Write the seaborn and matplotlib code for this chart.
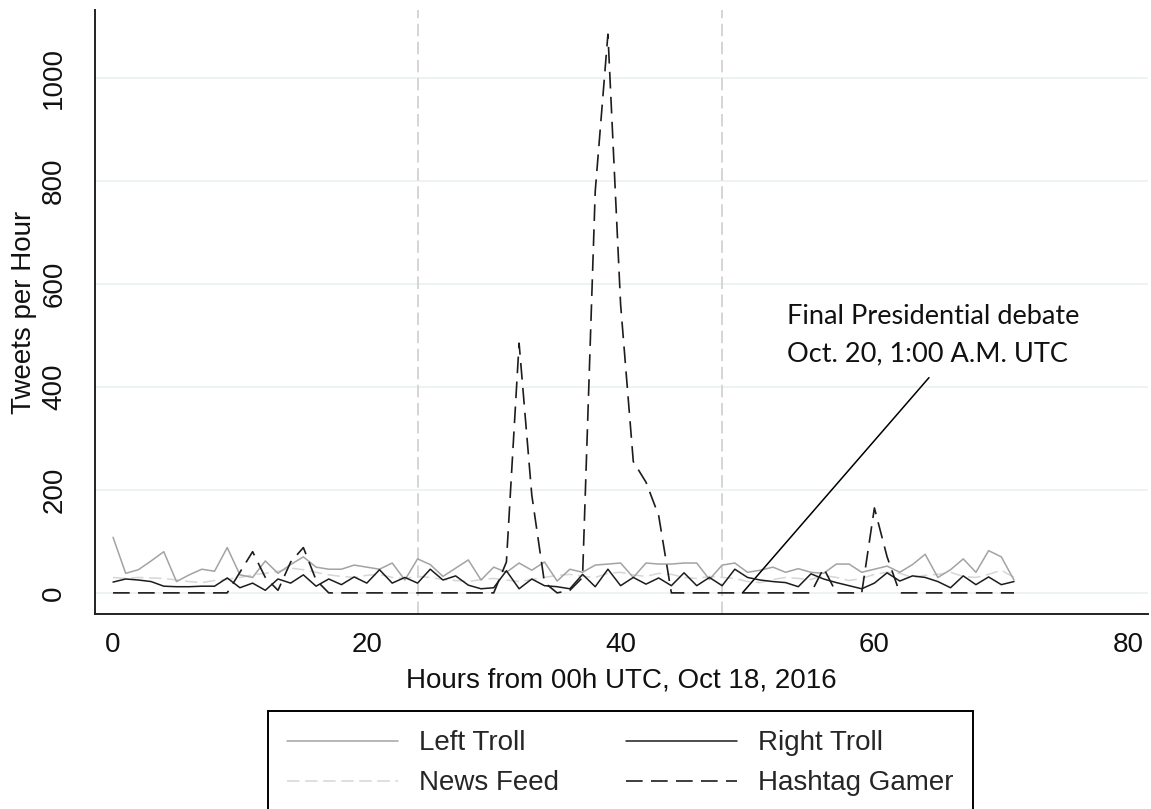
import matplotlib
matplotlib.use("Agg")
import matplotlib.pyplot as plt
import seaborn as sns
import numpy as np

hours = list(range(72))

left_troll = [108, 38, 45, 62, 80, 22, 35, 46, 42, 88, 35, 30, 62, 38, 55, 70, 50, 46,
              46, 54, 50, 46, 58, 25, 66, 55, 32, 48, 64, 25, 50, 40, 58, 44, 60, 23,
              46, 40, 54, 56, 58, 30, 58, 56, 56, 58, 58, 26, 54, 58, 40, 44, 50, 40,
              47, 40, 38, 56, 56, 40, 46, 52, 40, 55, 75, 30, 45, 66, 40, 82, 70, 25]

right_troll = [21, 27, 25, 22, 13, 12, 12, 13, 13, 29, 10, 19, 5, 27, 19, 35, 13, 27,
               16, 31, 19, 45, 19, 30, 19, 46, 25, 33, 15, 8, 10, 43, 8, 27, 14, 12,
               8, 36, 12, 46, 14, 30, 17, 29, 14, 39, 14, 30, 14, 46, 30, 25, 22, 20,
               12, 37, 27, 20, 14, 8, 19, 39, 23, 33, 30, 22, 10, 33, 16, 31, 16, 22]

news_feed = [30, 28, 30, 29, 28, 25, 22, 20, 24, 26, 30, 35, 38, 42, 48, 45, 40, 35,
             32, 30, 34, 36, 30, 28, 32, 30, 26, 24, 22, 26, 28, 25, 22, 26, 30, 34,
             36, 32, 30, 38, 40, 35, 32, 38, 36, 30, 28, 32, 30, 28, 22, 20, 26, 30,
             28, 26, 34, 30, 24, 28, 36, 40, 38, 30, 34, 36, 40, 32, 30, 36, 44, 30]

hashtag_gamer = [0, 0, 0, 0, 0, 0, 0, 0, 0, 0, 40, 80, 30, 5, 60, 88, 25, 0,
                 0, 0, 0, 0, 0, 0, 0, 0, 0, 0, 0, 0, 0, 60, 485, 190, 20, 0,
                 5, 30, 780, 1085, 560, 255, 215, 150, 0, 0, 0, 0, 0, 0, 0, 0, 0, 0,
                 0, 0, 48, 0, 0, 0, 165, 70, 0, 0, 0, 0, 0, 0, 0, 0, 0, 0]

series_names = ["Left Troll", "News Feed", "Right Troll", "Hashtag Gamer"]
event_hours = [24, 48]
x_ticks = [0, 20, 40, 60, 80]
y_ticks = [0, 200, 400, 600, 800, 1000]
annot_lines = ["Final Presidential debate", "Oct. 20, 1:00 A.M. UTC"]

sns.set_style("white")
plt.rcParams["font.family"] = ["Liberation Sans", "DejaVu Sans"]
plt.rcParams["lines.scale_dashes"] = False

fig = plt.figure(figsize=(11.51, 8.09), dpi=100)
ax = fig.add_axes([95 / 1151, 1 - 614 / 809, (1148 - 95) / 1151, (614 - 10) / 809])

ax.set_xlim(-1.42, 81.56)
ax.set_ylim(-41, 1132)

for yt in y_ticks:
    ax.axhline(yt, color="#e8f0f2", lw=1.1, zorder=0)

for eh in event_hours:
    ax.axvline(eh, color="#d2d2d2", lw=1.3, linestyle=(0, (9, 4)), zorder=1)

sns.lineplot(x=hours, y=left_troll, ax=ax, color="#a3a3a3", lw=1.1, label=series_names[0], zorder=3)
sns.lineplot(x=hours, y=news_feed, ax=ax, color="#d6d6d6", lw=1.1, linestyle=(0, (9, 4)),
             label=series_names[1], zorder=2)
sns.lineplot(x=hours, y=right_troll, ax=ax, color="#1c1c1c", lw=1.1, label=series_names[2], zorder=4)
sns.lineplot(x=hours, y=hashtag_gamer, ax=ax, color="#1c1c1c", lw=1.2, linestyle=(0, (12, 6)),
             label=series_names[3], zorder=5)

ax.annotate("", xy=(49.6, 0), xytext=(64.3, 418),
            arrowprops=dict(arrowstyle="-", color="black", lw=1.1, shrinkA=0, shrinkB=0))
ax.text(53.1, 536, annot_lines[0], fontsize=19.5, family=["Lato", "DejaVu Sans"],
        ha="left", va="center", color="#111111")
ax.text(53.1, 465, annot_lines[1], fontsize=19.5, family=["Lato", "DejaVu Sans"],
        ha="left", va="center", color="#111111")

ax.set_xticks(x_ticks)
ax.set_yticks(y_ticks)
ax.set_xticklabels([str(v) for v in x_ticks], fontsize=20)
ax.set_yticklabels([str(v) for v in y_ticks], fontsize=20, rotation=90, va="center")
ax.tick_params(axis="both", direction="out", length=8, width=1.3, color="#222222", colors="#111111")
ax.tick_params(axis="x", pad=5)
ax.tick_params(axis="y", pad=12)

for s in ["top", "right"]:
    ax.spines[s].set_visible(False)
for s in ["left", "bottom"]:
    ax.spines[s].set_color("#222222")
    ax.spines[s].set_linewidth(1.4)

ax.set_xlabel("Hours from 00h UTC, Oct 18, 2016", fontsize=20, labelpad=7, color="#111111")
ax.set_ylabel("Tweets per Hour", fontsize=20, labelpad=3, color="#111111")

handles, labels = ax.get_legend_handles_labels()
if ax.legend_:
    ax.legend_.remove()
order = [labels.index(n) for n in series_names]
leg = fig.legend([handles[i] for i in order], [labels[i] for i in order],
                 loc="upper center", bbox_to_anchor=(0.539, 1 - 711 / 809),
                 bbox_transform=fig.transFigure, ncol=2, fontsize=20,
                 handlelength=4.0, handletextpad=0.75, columnspacing=2.4,
                 labelspacing=0.5, borderpad=0.7, borderaxespad=0.0, fancybox=False,
                 frameon=True, edgecolor="black", framealpha=1)
leg.get_frame().set_linewidth(1.4)

fig.savefig("out.png", dpi=100)
